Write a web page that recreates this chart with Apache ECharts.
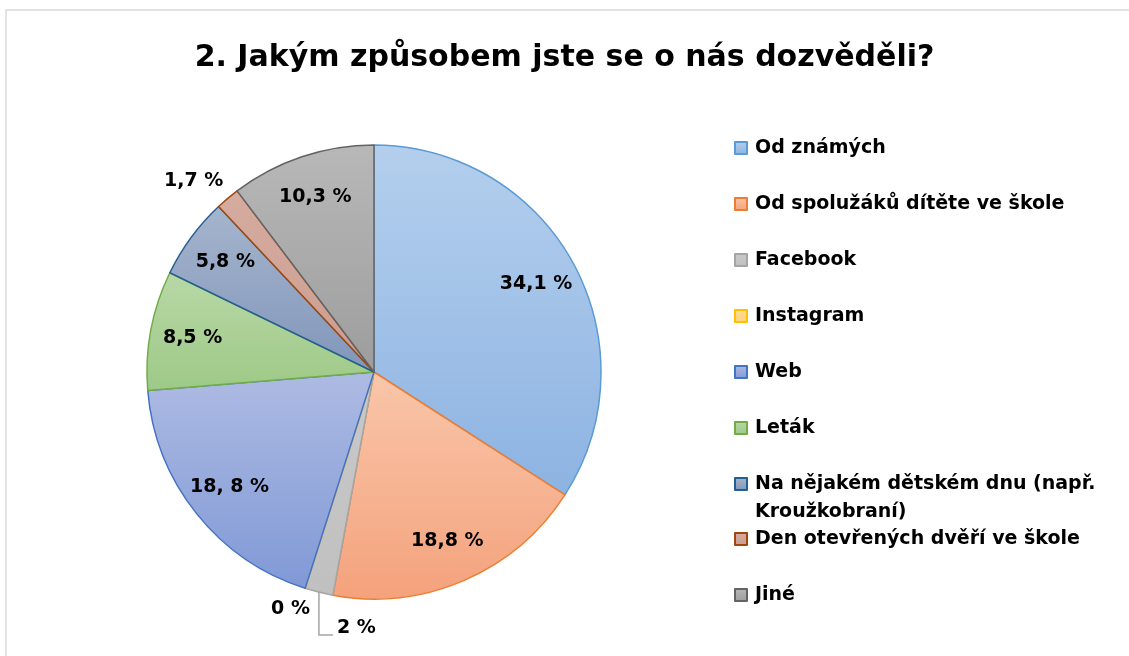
<!DOCTYPE html>
<html>
<head>
<meta charset="utf-8">
<script src="https://cdn.jsdelivr.net/npm/echarts@6/dist/echarts.min.js"></script>
<style>
  html, body { margin: 0; padding: 0; background: #fff; }
  #chart { width: 1129px; height: 656px; }
</style>
</head>
<body>
<div id="chart"></div>
<script>
const categories = [
  'Od známých',
  'Od spolužáků dítěte ve škole',
  'Facebook',
  'Instagram',
  'Web',
  'Leták',
  'Na nějakém dětském dnu (např.\nKroužkobraní)',
  'Den otevřených dvěří ve škole',
  'Jiné'
]
const values = [34.1, 18.8, 2, 0, 18.8, 8.5, 5.8, 1.7, 10.3]
const labelTexts = ['34,1 %', '18,8 %', '2 %', '0 %', '18, 8 %', '8,5 %', '5,8 %', '1,7 %', '10,3 %']
// small slices get their label outside the pie
const outsideLabels = ['Facebook', 'Instagram', 'Den otevřených dvěří ve škole']

const borderColors = ['#5b9bd5', '#ed7d31', '#a5a5a5', '#ffc000', '#4472c4', '#70ad47', '#255e91', '#9e480e', '#636363']
const topColors = ['#b4cfed', '#f9c6aa', '#c9c9c9', '#ffdd99', '#aebbe3', '#b8d8a6', '#a6b5cd', '#d6aca0', '#b8b8b8']
const bottomColors = ['#8db3e2', '#f4a27c', '#c0c0c0', '#ffd27a', '#8099d6', '#9ec987', '#8196ba', '#cc9c90', '#9d9d9d']

const FONT = 'DejaVu Sans'
const CX = 374, CY = 372, R = 227

const chart = echarts.init(document.getElementById('chart'))

const fill = (i) => new echarts.graphic.LinearGradient(0, 0, 0, 1, [
  { offset: 0, color: topColors[i] },
  { offset: 1, color: bottomColors[i] }
])

const mainData = categories.map((name, i) => {
  const item = {
    name: name,
    value: values[i],
    itemStyle: { color: fill(i), borderColor: borderColors[i], borderWidth: 1.5 },
    label: { show: false },
    labelLine: { show: false }
  }
  if (name === 'Facebook') {
    item.label = { show: true, position: 'outside' }
    item.labelLine = { show: true, length: 44, length2: 14, lineStyle: { color: '#a5a5a5', width: 1.5 } }
  } else if (name === 'Instagram') {
    item.label = { show: true, position: 'outside' }
    item.labelLine = { show: false, length: 14, length2: 0 }
  } else if (name.indexOf('Den') === 0) {
    item.label = { show: true, position: 'outside' }
    item.labelLine = { show: false, length: 2, length2: 14 }
  }
  return item
})

const innerData = categories.map((name, i) => ({
  name: name,
  value: values[i],
  label: { show: outsideLabels.indexOf(name) < 0 }
}))

// legend: one block per entry so the two-line entry keeps the original spacing
const legendCenters = [148, 204, 260, 316, 372, 428, 484, 539, 595]
const legends = categories.map((name, i) => {
  const twoLines = name.indexOf('\n') >= 0
  return {
    data: [name],
    orient: 'vertical',
    left: 734,
    top: legendCenters[i] - (twoLines ? 42 : 14),
    padding: 0,
    icon: 'rect',
    itemWidth: 12,
    itemHeight: 12,
    itemGap: 0,
    selectedMode: false,
    // blank first line keeps the marker level with the first text line
    formatter: (n) => twoLines ? ' \n' + n : n,
    textStyle: {
      fontFamily: FONT, fontWeight: 'bold', fontSize: 19, color: '#000', lineHeight: 28,
      padding: [0, 0, 0, 3]
    }
  }
})

chart.setOption({
  animation: false,
  title: {
    text: '2. Jakým způsobem jste se o nás dozvěděli?',
    left: 'center',
    top: 38,
    textStyle: { fontFamily: FONT, fontWeight: 'bold', fontSize: 30, color: '#000' }
  },
  graphic: [{
    type: 'rect',
    shape: { x: 6, y: 10, width: 1300, height: 800 },
    style: { fill: 'none', stroke: '#d9d9d9', lineWidth: 1.5 },
    silent: true,
    z: -1
  }],
  legend: legends,
  series: [
    {
      type: 'pie',
      center: [CX, CY],
      radius: [0, R],
      startAngle: 90,
      clockwise: true,
      avoidLabelOverlap: false,
      data: mainData,
      label: {
        formatter: (p) => labelTexts[p.dataIndex],
        fontFamily: FONT, fontWeight: 'bold', fontSize: 19, color: '#000'
      },
      labelLayout: (p) => {
        const name = categories[p.dataIndex]
        if (name === 'Instagram') return { dx: 14, dy: 7 }
        if (name.indexOf('Den') === 0) return { dx: 16, dy: -16 }
        // Facebook: vertical leader, then a short run to the right
        if (name !== 'Facebook' || !p.labelLinePoints) return {}
        const pts = p.labelLinePoints
        const p1 = [pts[0][0], pts[1][1]]
        const end = [p1[0] + Math.abs(pts[2][0] - pts[1][0]), p1[1]]
        return {
          x: end[0] + 4,
          y: end[1] + 3,
          align: 'left',
          verticalAlign: 'bottom',
          labelLinePoints: [pts[0], p1, end]
        }
      },
      emphasis: { disabled: true }
    },
    {
      type: 'pie',
      center: [CX, CY],
      radius: [R * 0.6, R],
      startAngle: 90,
      clockwise: true,
      silent: true,
      legendHoverLink: false,
      itemStyle: { color: 'rgba(0,0,0,0)', borderWidth: 0 },
      label: {
        position: 'inside',
        formatter: (p) => labelTexts[p.dataIndex],
        fontFamily: FONT, fontWeight: 'bold', fontSize: 19, color: '#000'
      },
      labelLine: { show: false },
      data: innerData
    }
  ]
})
</script>
</body>
</html>
